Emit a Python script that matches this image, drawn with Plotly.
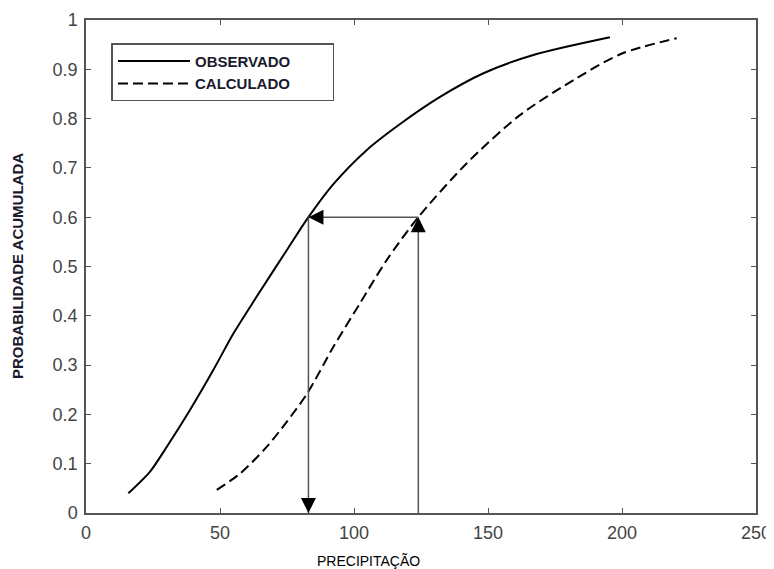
import plotly.graph_objects as go

# ---- data ----
obs_x = [15.8, 23.9, 30.1, 38.8, 47.5, 55.0, 63.7, 74.9, 83.0, 92.3, 104.7, 117.2, 132.1, 148.3, 166.9, 195.5]
obs_y = [0.040, 0.084, 0.134, 0.209, 0.290, 0.364, 0.439, 0.533, 0.600, 0.667, 0.736, 0.789, 0.844, 0.892, 0.929, 0.965]

calc_x = [48.8, 57.5, 67.4, 74.9, 82.6, 92.3, 102.2, 112.2, 124.0, 142.0, 161.9, 183.1, 200.0, 220.4]
calc_y = [0.047, 0.080, 0.134, 0.185, 0.243, 0.337, 0.425, 0.513, 0.600, 0.709, 0.807, 0.882, 0.932, 0.963]

p_ref = 0.6          # probability used in the arrow construction
x_obs_at_p = 83.0    # observed precipitation at p_ref
x_calc_at_p = 124.0  # calculated precipitation at p_ref

x_ticks = [0, 50, 100, 150, 200, 250]
x_tick_labels = ["0", "50", "100", "150", "200", "250"]
y_ticks = [0, 0.1, 0.2, 0.3, 0.4, 0.5, 0.6, 0.7, 0.8, 0.9, 1.0]
y_tick_labels = ["0", "0.1", "0.2", "0.3", "0.4", "0.5", "0.6", "0.7", "0.8", "0.9", "1"]

series_names = ["OBSERVADO", "CALCULADO"]
x_title = "PRECIPITAÇÃO"
y_title = "PROBABILIDADE ACUMULADA"

# ---- figure ----
fig = go.Figure()
pad = "&nbsp;" * 9
fig.add_trace(go.Scatter(x=obs_x, y=obs_y, mode="lines", name="<b>" + series_names[0] + "</b>" + pad,
                         line=dict(color="#000000", width=2, shape="spline", smoothing=0.8)))
fig.add_trace(go.Scatter(x=calc_x, y=calc_y, mode="lines", name="<b>" + series_names[1] + "</b>" + pad,
                         line=dict(color="#000000", width=2, dash="10px,5px", shape="spline", smoothing=0.8)))

line_col = "#555555"
# construction lines
fig.add_shape(type="line", x0=x_calc_at_p, x1=x_calc_at_p, y0=0, y1=p_ref, xref="x", yref="y",
              line=dict(color=line_col, width=1.5))
fig.add_shape(type="line", x0=x_calc_at_p, x1=x_obs_at_p, y0=p_ref, y1=p_ref, xref="x", yref="y",
              line=dict(color=line_col, width=1.5))
fig.add_shape(type="line", x0=x_obs_at_p, x1=x_obs_at_p, y0=p_ref, y1=0, xref="x", yref="y",
              line=dict(color=line_col, width=1.5))

# arrow heads
head = dict(showarrow=True, arrowhead=2, arrowsize=2.0, arrowwidth=1.5, arrowcolor="#000000",
            text="", xref="x", yref="y", axref="pixel", ayref="pixel", standoff=0)
fig.add_annotation(x=x_calc_at_p, y=p_ref, ax=0, ay=16, **head)
fig.add_annotation(x=x_obs_at_p, y=p_ref, ax=16, ay=0, **head)
fig.add_annotation(x=x_obs_at_p, y=0, ax=0, ay=-16, **head)

tick_font = dict(family="Liberation Sans, Arial, sans-serif", size=18, color="#444444")

fig.update_xaxes(range=[0, 250], tickvals=x_ticks, ticktext=x_tick_labels, automargin=False,
                 ticks="inside", ticklen=5, tickcolor="#555555", showline=True, linecolor="#555555",
                 linewidth=1.5, mirror="ticks", showgrid=False, zeroline=False, tickfont=tick_font,
                 ticklabelstandoff=3, ticklabeloverflow="allow")
fig.update_yaxes(range=[0, 1], tickvals=y_ticks, ticktext=y_tick_labels, automargin=False,
                 ticks="inside", ticklen=5, tickcolor="#555555", showline=True, linecolor="#555555",
                 linewidth=1.5, mirror="ticks", showgrid=False, zeroline=False, tickfont=tick_font,
                 ticklabelstandoff=3, ticklabeloverflow="allow")

fig.add_annotation(text=x_title, xref="paper", yref="paper", x=0.421, y=-0.097,
                   showarrow=False, xanchor="center", yanchor="middle",
                   font=dict(family="Liberation Sans, Arial, sans-serif", size=14, color="#000000"))
fig.add_annotation(text="<b>" + y_title + "</b>", xref="paper", yref="paper", x=-0.103, y=0.501,
                   showarrow=False, xanchor="center", yanchor="middle", textangle=-90,
                   font=dict(family="Liberation Sans, Arial, sans-serif", size=15, color="#1a1a2e"))

# the page body adds an 8px offset; compensate in size/margins
fig.update_layout(
    width=766, height=561,
    margin=dict(l=78, r=18, t=12, b=56, autoexpand=False),
    paper_bgcolor="white", plot_bgcolor="white",
    showlegend=True,
    legend=dict(x=0.038, y=0.953, xanchor="left", yanchor="top",
                bgcolor="white", bordercolor="#555555", borderwidth=1.5,
                itemwidth=72,
                font=dict(family="Liberation Sans, Arial, sans-serif", size=15, color="#1a1a2e"),
                tracegroupgap=0),
)

fig.write_html("out.html")
